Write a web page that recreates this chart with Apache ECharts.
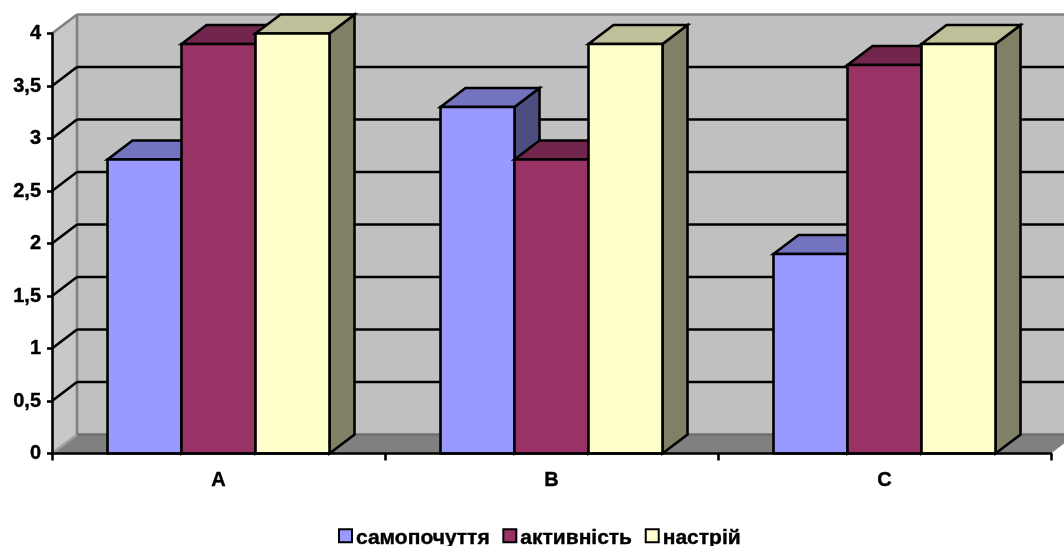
<!DOCTYPE html>
<html>
<head>
<meta charset="utf-8">
<style>html,body{margin:0;padding:0;background:#fff}#chart{width:1064px;height:546px}</style>
<script src="https://cdn.jsdelivr.net/npm/echarts@6/dist/echarts.min.js"></script>
</head>
<body>
<div id="chart"></div>
<script>
// Values per group, in the order of the categories
const categories = ['A', 'B', 'C'];
const samopochuttia = [2.8, 3.3, 1.9];
const aktyvnist = [3.9, 2.8, 3.7];
const nastrii = [4, 3.9, 3.9];
const seriesNames = ['самопочуття', 'активність', 'настрій'];
const yMin = 0;
const yMax = 4;
const yStep = 0.5;
const gridValues = [0.5, 1, 1.5, 2, 2.5, 3, 3.5];

// Face colours of each box: front, top, side
const palette = [
  ['#9999FF', '#7373BF', '#4D4D80'],
  ['#993366', '#73264D', '#4D1A33'],
  ['#FFFFCC', '#BFBF99', '#808066']
];

// Oblique projection offset of the box depth, in pixels
const DX = 25;
const DY = 19;
const BARS_PER_BAND = 4.5;
const EDGE = 2.6;

function poly(points, fill, stroke, lineWidth) {
  return {
    type: 'polygon',
    shape: { points },
    style: { fill, stroke: stroke || 'none', lineWidth: lineWidth || 0, lineJoin: 'miter' }
  };
}

function line(x1, y1, x2, y2, stroke, lineWidth) {
  return {
    type: 'line',
    shape: { x1, y1, x2, y2 },
    style: { stroke, lineWidth, fill: 'none' }
  };
}

// Back wall, left wall, floor and the grid lines that wrap around them
function renderRoom(params, api) {
  const rect = params.coordSys;
  const x0 = rect.x;
  const x1 = rect.x + rect.width;
  const yTop = api.coord([0, yMax])[1];
  const yBase = api.coord([0, yMin])[1];
  const children = [
    poly([[x0, yTop], [x0 + DX, yTop - DY], [x0 + DX, yBase - DY], [x0, yBase]], '#C8C8C8'),
    poly([[x0 + DX, yTop - DY], [x1 + DX, yTop - DY], [x1 + DX, yBase - DY], [x0 + DX, yBase - DY]], '#C0C0C0'),
    poly([[x0, yBase], [x0 + DX, yBase - DY], [x1 + DX, yBase - DY], [x1, yBase]], '#808080'),
    line(x0, yTop, x0 + DX, yTop - DY, '#808080', EDGE),
    line(x0 + DX, yTop - DY, x1 + DX, yTop - DY, '#808080', EDGE),
    line(x0 + DX, yTop - DY, x0 + DX, yBase - DY, '#808080', EDGE),
    line(x0, yBase, x0 + DX, yBase - DY, '#A0A0A0', EDGE),
    line(x0 + DX, yBase - DY, x1 + DX, yBase - DY, '#707070', EDGE)
  ];
  gridValues.forEach(function (v) {
    const y = api.coord([0, v])[1];
    children.push(line(x0, y, x0 + DX, y - DY, '#000', EDGE));
    children.push(line(x0 + DX, y - DY, x1 + DX, y - DY, '#000', EDGE));
  });
  return { type: 'group', children };
}

// One box: front face plus the top and side faces offset by the depth
function boxRenderer(seriesPos) {
  return function (params, api) {
    const base = api.coord([api.value(0), yMin]);
    const top = api.coord([api.value(0), api.value(1)]);
    const w = api.size([1, 0])[0] / BARS_PER_BAND;
    const l = base[0] + (seriesPos - 1.5) * w;
    const r = l + w;
    const t = top[1];
    const b = base[1];
    const colors = palette[seriesPos];
    return {
      type: 'group',
      children: [
        poly([[r, t], [r + DX, t - DY], [r + DX, b - DY], [r, b]], colors[2], '#000', EDGE),
        poly([[l, t], [l + DX, t - DY], [r + DX, t - DY], [r, t]], colors[1], '#000', EDGE),
        poly([[l, t], [r, t], [r, b], [l, b]], colors[0], '#000', EDGE)
      ]
    };
  };
}

function barSeries(name, values, pos) {
  return {
    type: 'custom',
    name,
    renderItem: boxRenderer(pos),
    data: values.map(function (v, i) { return [i, v]; }),
    encode: { x: 0, y: 1 },
    itemStyle: { color: palette[pos][0], borderColor: '#000', borderWidth: EDGE },
    silent: true,
    clip: false
  };
}

const labelFont = {
  fontFamily: '"Liberation Sans", Arial, sans-serif',
  fontWeight: 'bold',
  fontSize: 20,
  color: '#000',
  textBorderColor: '#000',
  textBorderWidth: 0.4
};

const legendFont = Object.assign({}, labelFont, { fontSize: 21 });

const chart = echarts.init(document.getElementById('chart'), null, { renderer: 'canvas' });
chart.setOption({
  animation: false,
  backgroundColor: '#fff',
  grid: { left: 52, right: 13, top: 33.5, bottom: 92.5, containLabel: false },
  legend: {
    data: seriesNames,
    left: 338,
    top: 528,
    itemWidth: 13,
    itemHeight: 13,
    itemGap: 12.5,
    padding: 0,
    selectedMode: false,
    icon: 'rect',
    formatter: '{n|{name}}',
    textStyle: Object.assign({}, legendFont, {
      padding: [0, 0, 0, -1],
      rich: { n: Object.assign({}, legendFont, { padding: [6, 0, 0, 0] }) }
    })
  },
  xAxis: {
    type: 'category',
    data: categories,
    z: 5,
    axisLine: { lineStyle: { color: '#000', width: EDGE } },
    axisTick: { show: true, length: 7, lineStyle: { color: '#000', width: EDGE } },
    axisLabel: Object.assign({ margin: 17 }, labelFont),
    splitLine: { show: false }
  },
  yAxis: {
    type: 'value',
    min: yMin,
    max: yMax,
    interval: yStep,
    z: 5,
    axisLine: { show: true, lineStyle: { color: '#000', width: EDGE } },
    axisTick: { show: true, length: 5, lineStyle: { color: '#000', width: EDGE } },
    axisLabel: Object.assign({
      margin: 11,
      padding: [2, 0, 0, 0],
      formatter: function (v) { return String(v).replace('.', ','); }
    }, labelFont),
    splitLine: { show: false }
  },
  series: [
    {
      type: 'custom',
      name: 'room',
      renderItem: renderRoom,
      data: [[0, yMin]],
      encode: { x: 0, y: 1 },
      silent: true,
      clip: false,
      z: 1
    },
    barSeries(seriesNames[0], samopochuttia, 0),
    barSeries(seriesNames[1], aktyvnist, 1),
    barSeries(seriesNames[2], nastrii, 2)
  ]
});
</script>
</body>
</html>
